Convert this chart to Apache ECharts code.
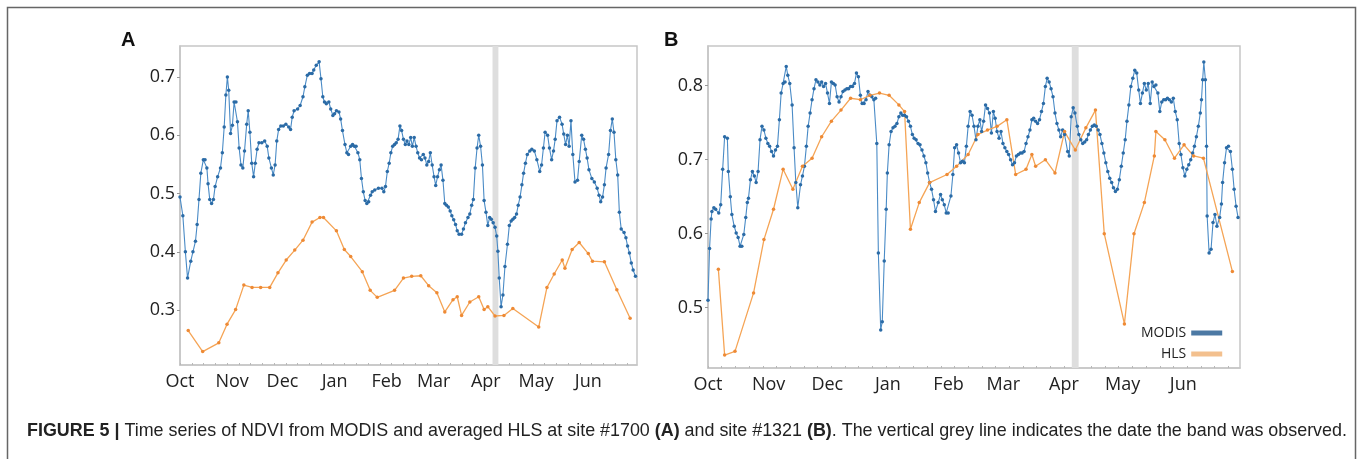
<!DOCTYPE html>
<html>
<head>
<meta charset="utf-8">
<script src="https://cdn.jsdelivr.net/npm/echarts@6/dist/echarts.min.js"></script>
<style>
html,body{margin:0;padding:0;background:#fff;}
#chart{width:1358px;height:459px;}
</style>
</head>
<body>
<div id="chart"></div>
<script>
// x values are days since 1 October
const monthTicks = [0, 31, 61, 92, 123, 151, 182, 212, 243];
const monthNames = ['Oct', 'Nov', 'Dec', 'Jan', 'Feb', 'Mar', 'Apr', 'May', 'Jun'];
const weekTicks = [0,7,14,21,28,35,42,49,56,63,70,77,84,91,98,105,112,119,126,133,140,147,154,161,168,175,182,189,196,203,210,217,224,231,238,245,252,259,266];
const yTicksA = [0.3, 0.4, 0.5, 0.6, 0.7];
const yTicksB = [0.5, 0.6, 0.7, 0.8];
const bandDays = [186, 189.5]; // date the band was observed

const modisA = [[0,0.494],[1.7,0.462],[3.2,0.40],[4.5,0.355],[6.4,0.384],[7.7,0.40],[9.2,0.418],[10.2,0.447],[11.3,0.49],[12.4,0.535],[13.9,0.558],[14.9,0.558],[16.0,0.544],[16.7,0.517],[17.7,0.49],[18.8,0.483],[19.9,0.49],[20.9,0.512],[22.4,0.529],[24.1,0.544],[25.2,0.57],[26.3,0.614],[27.3,0.669],[28.2,0.70],[29.0,0.677],[30.1,0.603],[31.2,0.617],[32.2,0.657],[33.3,0.657],[34.2,0.623],[35.2,0.578],[36.3,0.549],[37.4,0.544],[38.4,0.573],[39.7,0.619],[40.6,0.642],[41.6,0.605],[42.7,0.552],[43.8,0.529],[44.8,0.552],[45.9,0.576],[47.0,0.587],[48.7,0.587],[50.4,0.590],[51.9,0.581],[52.9,0.561],[54.4,0.544],[55.5,0.532],[56.6,0.549],[57.6,0.590],[58.7,0.610],[60.0,0.616],[61.5,0.616],[63.0,0.619],[64.7,0.614],[65.8,0.61],[66.8,0.631],[67.9,0.642],[70.0,0.645],[71.5,0.651],[73.2,0.666],[74.3,0.683],[75.8,0.703],[77.1,0.706],[78.6,0.706],[79.6,0.712],[81.1,0.72],[82.8,0.726],[83.9,0.697],[85.0,0.666],[86.0,0.657],[87.1,0.654],[88.6,0.657],[89.7,0.645],[91.0,0.634],[92.0,0.637],[93.1,0.642],[94.6,0.640],[95.6,0.628],[96.7,0.608],[98.2,0.584],[99.3,0.570],[100.3,0.567],[101.6,0.581],[102.7,0.584],[103.8,0.581],[104.8,0.581],[105.9,0.57],[107.0,0.558],[108.0,0.526],[109.1,0.503],[110.2,0.488],[111.2,0.483],[112.3,0.486],[113.4,0.497],[114.4,0.503],[115.9,0.506],[118.1,0.509],[120.2,0.509],[121.3,0.503],[122.3,0.512],[123.4,0.538],[124.5,0.552],[125.5,0.570],[126.6,0.581],[127.7,0.584],[128.7,0.587],[129.8,0.593],[130.9,0.616],[131.9,0.608],[133.0,0.593],[134.1,0.584],[135.1,0.590],[136.2,0.584],[137.3,0.596],[138.3,0.581],[139.4,0.596],[140.5,0.581],[141.5,0.57],[142.6,0.561],[143.7,0.558],[144.8,0.567],[145.8,0.561],[146.9,0.549],[148.0,0.555],[149.0,0.57],[150.1,0.549],[151.2,0.529],[152.2,0.514],[153.3,0.529],[154.4,0.541],[155.4,0.549],[156.5,0.523],[157.6,0.483],[158.6,0.48],[159.7,0.477],[160.8,0.470],[161.8,0.462],[162.9,0.455],[164.0,0.447],[165.0,0.436],[166.1,0.43],[167.6,0.43],[168.7,0.439],[169.9,0.45],[171.4,0.459],[172.5,0.465],[173.6,0.48],[174.6,0.49],[175.7,0.544],[176.8,0.578],[177.8,0.60],[178.9,0.581],[180.0,0.549],[181.0,0.488],[182.1,0.468],[183.2,0.445],[184.3,0.459],[185.3,0.456],[186.4,0.45],[187.5,0.442],[188.5,0.427],[189.2,0.401],[190.0,0.355],[191.1,0.306],[192.2,0.326],[193.4,0.375],[194.9,0.413],[196.0,0.445],[197.1,0.453],[198.1,0.456],[199.2,0.459],[200.3,0.465],[201.3,0.48],[202.4,0.494],[203.5,0.515],[204.5,0.535],[205.6,0.552],[206.7,0.567],[208.2,0.573],[209.4,0.576],[210.9,0.573],[212.4,0.558],[214.1,0.538],[215.2,0.549],[216.3,0.578],[217.3,0.605],[218.8,0.60],[219.9,0.578],[221.2,0.558],[222.3,0.573],[223.3,0.593],[224.4,0.625],[225.9,0.631],[227.4,0.619],[228.4,0.602],[229.5,0.584],[230.6,0.600],[231.6,0.581],[232.7,0.625],[233.8,0.567],[235.1,0.520],[236.6,0.523],[237.6,0.555],[239.1,0.60],[240.2,0.593],[241.3,0.576],[242.3,0.561],[243.4,0.541],[245.1,0.526],[246.6,0.52],[248.3,0.509],[249.4,0.497],[250.4,0.486],[251.5,0.494],[252.6,0.515],[253.6,0.544],[255.1,0.567],[256.2,0.608],[257.3,0.628],[258.3,0.605],[259.4,0.558],[260.5,0.532],[261.5,0.468],[262.6,0.439],[264.3,0.433],[265.4,0.424],[266.4,0.41],[267.5,0.398],[268.6,0.381],[269.7,0.369],[271.1,0.358]];

const hlsA = [[4.9,0.265],[13.5,0.229],[23.1,0.244],[28.0,0.276],[33.1,0.301],[38.0,0.343],[42.9,0.339],[48.0,0.339],[53.4,0.339],[58.3,0.364],[63.2,0.386],[68.3,0.403],[73.2,0.42],[78.6,0.451],[83.3,0.459],[85.4,0.459],[93.1,0.436],[97.8,0.404],[101.6,0.392],[108.5,0.366],[113.2,0.334],[117.4,0.322],[127.7,0.334],[133.0,0.355],[137.9,0.358],[143.3,0.359],[148.0,0.342],[152.9,0.33],[157.6,0.297],[162.5,0.318],[165.0,0.323],[167.6,0.291],[172.5,0.314],[177.8,0.323],[181.0,0.301],[183.2,0.306],[187.5,0.29],[192.8,0.291],[198.1,0.303],[213.5,0.271],[218.4,0.339],[222.7,0.362],[227.5,0.386],[229.1,0.372],[233.4,0.404],[237.6,0.416],[243.0,0.397],[245.5,0.384],[252.6,0.383],[260.0,0.335],[267.9,0.286]];

const modisB = [[0,0.51],[0.8,0.58],[1.6,0.62],[2.0,0.630],[3.0,0.635],[3.9,0.633],[5.5,0.628],[6.5,0.639],[7.5,0.687],[8.5,0.731],[9.9,0.729],[10.4,0.684],[11.4,0.650],[12.2,0.626],[13.4,0.61],[14.4,0.601],[15.4,0.595],[16.4,0.583],[17.3,0.583],[18.3,0.599],[19.3,0.622],[20.1,0.642],[20.7,0.648],[21.7,0.673],[22.7,0.684],[23.7,0.678],[24.6,0.669],[25.6,0.684],[26.6,0.727],[27.6,0.745],[28.6,0.740],[29.6,0.729],[30.6,0.722],[31.5,0.718],[32.5,0.711],[33.5,0.705],[34.5,0.713],[35.5,0.718],[36.5,0.754],[37.4,0.790],[38.4,0.803],[39.4,0.805],[40.0,0.826],[40.8,0.814],[41.8,0.803],[43.0,0.774],[44.0,0.716],[44.9,0.669],[45.9,0.635],[47.3,0.666],[48.3,0.678],[49.3,0.691],[50.3,0.718],[51.2,0.745],[52.2,0.763],[53.2,0.781],[54.2,0.796],[55.2,0.808],[56.2,0.805],[57.2,0.801],[58.1,0.805],[59.1,0.799],[60.1,0.803],[61.1,0.790],[62.1,0.776],[63.1,0.805],[64.1,0.803],[65.0,0.801],[66.0,0.785],[67.0,0.778],[68.0,0.785],[69.0,0.792],[70.0,0.794],[71.0,0.796],[71.9,0.796],[72.9,0.799],[73.9,0.799],[74.9,0.803],[75.9,0.817],[76.9,0.812],[77.9,0.787],[78.8,0.776],[79.8,0.776],[80.8,0.781],[81.8,0.792],[82.8,0.787],[83.8,0.785],[84.8,0.781],[85.7,0.783],[86.3,0.722],[87.1,0.574],[88.3,0.470],[89.1,0.481],[90.1,0.563],[91.1,0.633],[91.7,0.682],[92.6,0.720],[93.6,0.738],[94.6,0.743],[95.6,0.745],[96.6,0.749],[97.6,0.758],[98.6,0.763],[99.5,0.760],[100.5,0.760],[101.5,0.758],[102.5,0.752],[103.5,0.745],[104.5,0.734],[105.4,0.729],[106.4,0.727],[107.4,0.722],[108.4,0.720],[109.4,0.713],[110.4,0.705],[111.4,0.696],[112.3,0.682],[113.3,0.669],[114.3,0.660],[115.3,0.646],[116.3,0.630],[117.7,0.642],[118.9,0.653],[119.8,0.646],[120.8,0.639],[121.8,0.628],[122.8,0.628],[124.2,0.651],[125.2,0.680],[126.1,0.716],[127.1,0.720],[128.1,0.709],[129.1,0.696],[130.1,0.698],[131.1,0.696],[132.1,0.718],[133.0,0.745],[134.0,0.765],[135.0,0.760],[136.0,0.745],[137.0,0.727],[138.0,0.745],[139.0,0.754],[139.9,0.738],[140.9,0.752],[141.9,0.774],[142.9,0.769],[143.9,0.763],[144.9,0.736],[145.9,0.765],[146.8,0.756],[147.8,0.738],[148.8,0.729],[149.8,0.738],[150.8,0.722],[151.8,0.716],[152.8,0.711],[153.7,0.707],[154.7,0.700],[155.7,0.693],[156.7,0.696],[157.7,0.705],[158.7,0.707],[159.7,0.709],[160.6,0.709],[161.6,0.711],[162.6,0.722],[163.6,0.731],[164.6,0.740],[165.6,0.754],[166.5,0.756],[167.5,0.752],[168.5,0.749],[169.5,0.754],[170.5,0.765],[171.5,0.776],[172.5,0.799],[173.4,0.810],[174.4,0.805],[175.4,0.796],[176.4,0.785],[177.4,0.763],[178.4,0.749],[179.4,0.740],[180.3,0.731],[181.3,0.740],[182.3,0.734],[183.9,0.711],[184.7,0.705],[185.7,0.758],[186.7,0.770],[187.6,0.763],[188.8,0.745],[189.6,0.734],[190.6,0.727],[191.6,0.722],[192.6,0.724],[193.6,0.727],[194.5,0.734],[195.5,0.740],[196.5,0.745],[197.5,0.747],[198.5,0.745],[199.5,0.740],[200.4,0.734],[201.4,0.722],[202.4,0.709],[203.4,0.696],[204.4,0.684],[205.4,0.675],[206.4,0.669],[207.3,0.662],[208.3,0.657],[209.3,0.660],[210.3,0.673],[211.3,0.691],[212.3,0.709],[213.3,0.727],[214.2,0.752],[215.2,0.774],[216.2,0.799],[217.2,0.810],[218.2,0.821],[219.2,0.817],[220.2,0.794],[221.1,0.776],[222.1,0.790],[223.1,0.803],[224.1,0.794],[225.1,0.803],[226.1,0.776],[227.1,0.805],[228.0,0.799],[229.0,0.801],[230.0,0.790],[231.0,0.765],[232.0,0.778],[233.0,0.781],[234.0,0.781],[234.9,0.783],[235.9,0.781],[236.9,0.778],[237.9,0.783],[238.9,0.765],[239.9,0.754],[240.9,0.722],[241.8,0.707],[242.8,0.689],[243.8,0.678],[244.8,0.687],[245.8,0.693],[246.8,0.700],[247.8,0.709],[248.7,0.718],[249.7,0.731],[250.7,0.745],[251.7,0.763],[252.3,0.781],[252.9,0.808],[253.5,0.832],[254.3,0.808],[254.9,0.718],[255.2,0.624],[256.2,0.574],[257.2,0.579],[258.2,0.615],[259.2,0.626],[260.2,0.610],[261.6,0.622],[262.5,0.640],[263.1,0.669],[264.1,0.696],[265.1,0.716],[266.1,0.718],[267.1,0.711],[268.1,0.687],[269.0,0.660],[270.0,0.637],[271.0,0.622]];

const hlsB = [[5.3,0.552],[8.5,0.436],[13.8,0.441],[23.3,0.520],[28.6,0.592],[33.5,0.633],[38.4,0.687],[43.4,0.660],[48.3,0.691],[53.2,0.702],[58.1,0.731],[63.1,0.752],[68.0,0.767],[72.9,0.783],[77.9,0.781],[82.8,0.787],[87.7,0.790],[92.6,0.787],[97.6,0.774],[100.5,0.765],[103.5,0.606],[108.0,0.642],[113.3,0.669],[122.2,0.680],[127.1,0.691],[133.0,0.707],[138.0,0.734],[142.9,0.740],[147.8,0.745],[152.8,0.754],[157.3,0.680],[162.6,0.687],[165.6,0.707],[167.5,0.691],[172.5,0.700],[177.4,0.682],[182.3,0.738],[187.8,0.713],[193.2,0.743],[198.1,0.767],[202.6,0.600],[212.9,0.478],[217.8,0.600],[223.1,0.642],[228.2,0.705],[229.0,0.738],[233.6,0.727],[238.5,0.702],[243.4,0.720],[248.3,0.705],[253.3,0.702],[268.1,0.549]];

const MODIS_LINE = '#4a8bc6', MODIS_DOT = '#2b6ba6';
const HLS_LINE = '#f5a455', HLS_DOT = '#ee8a35';
const LABEL_FONT = '"Open Sans", sans-serif';
const CAPTION_FONT = '"Liberation Sans Narrow", "Liberation Sans", Arial, sans-serif';

function xAxisFor(gridIndex) {
  return {
    type: 'value', gridIndex: gridIndex, min: 0, max: 272,
    splitLine: {show: false},
    axisLine: {show: true, lineStyle: {color: '#c6c6c6', width: 1.5}},
    axisTick: {show: true, inside: true, length: 2, customValues: weekTicks, lineStyle: {color: '#b8b8b8'}},
    axisLabel: {
      customValues: monthTicks, margin: 8,
      formatter: function (v) { const i = monthTicks.indexOf(v); return i >= 0 ? monthNames[i] : ''; },
      color: '#222', fontSize: 18, fontFamily: LABEL_FONT
    }
  };
}
function yAxisFor(gridIndex, min, max, ticks) {
  return {
    type: 'value', gridIndex: gridIndex, min: min, max: max,
    splitLine: {show: false},
    axisLine: {show: true, lineStyle: {color: '#c6c6c6', width: 1.5}},
    axisTick: {show: true, length: 3, customValues: ticks, lineStyle: {color: '#999'}},
    axisLabel: {customValues: ticks, margin: 5, color: '#222', fontSize: 18, fontFamily: LABEL_FONT,
      formatter: function (v) { return v.toFixed(1); }}
  };
}
function lineSeries(name, data, idx, lineColor, dotColor, width) {
  return {
    name: name, type: 'line', xAxisIndex: idx, yAxisIndex: idx, data: data,
    symbol: 'circle', symbolSize: 3.5, showSymbol: true, z: 3,
    lineStyle: {color: lineColor, width: width},
    itemStyle: {color: dotColor, borderWidth: 0},
    emphasis: {disabled: true}, animation: false
  };
}
function bandSeries(idx) {
  return {
    type: 'line', xAxisIndex: idx, yAxisIndex: idx, data: [], z: 1, silent: true,
    markArea: {silent: true, itemStyle: {color: '#dedede'},
      data: [[{xAxis: bandDays[0]}, {xAxis: bandDays[1]}]]}
  };
}

const chart = echarts.init(document.getElementById('chart'), null, {renderer: 'canvas'});
chart.setOption({
  animation: false,
  backgroundColor: '#fff',
  title: {
    left: 22, top: 417,
    text: '{b|FIGURE 5 |}{n| Time series of NDVI from MODIS and averaged HLS at site #1700 }{b|(A)}{n| and site #1321 }{b|(B)}{n|. The vertical grey line indicates the date the band was observed.}',
    textStyle: {
      fontWeight: 'normal',
      rich: {
        b: {fontFamily: CAPTION_FONT, fontWeight: 'bold', fontSize: 17.9, color: '#222'},
        n: {fontFamily: CAPTION_FONT, fontWeight: 'normal', fontSize: 17.9, color: '#222'}
      }
    }
  },
  legend: {
    show: true, orient: 'vertical', left: 1136, top: 321, align: 'right',
    itemWidth: 31, itemHeight: 5, itemGap: 7, icon: 'rect',
    textStyle: {fontFamily: LABEL_FONT, fontSize: 14, color: '#222', width: 57},
    data: [
      {name: 'MODIS', itemStyle: {color: '#4c79a4'}},
      {name: 'HLS', itemStyle: {color: '#f3c08e'}}
    ],
    selectedMode: false
  },
  grid: [
    {left: 180, top: 46, width: 457, height: 319, show: true, borderColor: '#c6c6c6', borderWidth: 1.5, backgroundColor: 'transparent'},
    {left: 708, top: 46, width: 532, height: 322, show: true, borderColor: '#c6c6c6', borderWidth: 1.5, backgroundColor: 'transparent'}
  ],
  xAxis: [xAxisFor(0), xAxisFor(1)],
  yAxis: [yAxisFor(0, 0.206, 0.753, yTicksA), yAxisFor(1, 0.4185, 0.8536, yTicksB)],
  series: [
    bandSeries(0), bandSeries(1),
    lineSeries('HLS', hlsA, 0, HLS_LINE, HLS_DOT, 1.3),
    lineSeries('MODIS', modisA, 0, MODIS_LINE, MODIS_DOT, 1.1),
    lineSeries('MODIS', modisB, 1, MODIS_LINE, MODIS_DOT, 1.1),
    lineSeries('HLS', hlsB, 1, HLS_LINE, HLS_DOT, 1.3)
  ],
  graphic: [
    {type: 'rect', silent: true, shape: {x: 7.5, y: 7.5, width: 1348, height: 520},
      style: {fill: 'none', stroke: '#666', lineWidth: 1.5}},
    {type: 'text', left: 121, top: 30, silent: true,
      style: {text: 'A', font: 'bold 20px "Liberation Sans", Arial, sans-serif', fill: '#111'}},
    {type: 'text', left: 664, top: 30, silent: true,
      style: {text: 'B', font: 'bold 20px "Liberation Sans", Arial, sans-serif', fill: '#111'}}
  ]
});
</script>
</body>
</html>
